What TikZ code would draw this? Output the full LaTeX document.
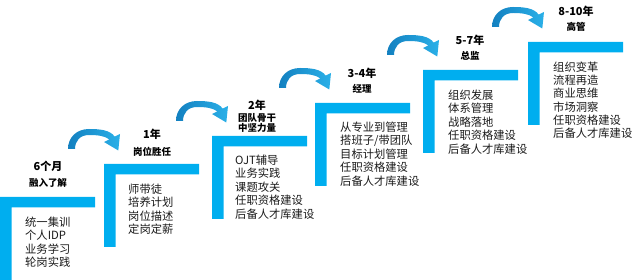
\documentclass[tikz,border=0pt]{standalone}
\usepackage{fontspec}
\setmainfont{Noto Sans CJK SC}
\definecolor{stepblue}{HTML}{00AEEF}
\definecolor{arrowdark}{HTML}{1380C0}
\definecolor{arrowlight}{HTML}{2AB0E8}
\definecolor{txt}{HTML}{1A1A1A}
\tikzset{
  stepbar/.style={fill=stepblue, draw=none},
  bodytxt/.style={font=\fontsize{11.3}{13.5}\selectfont, text=txt, anchor=base west, inner sep=0pt},
  titletxt/.style={font=\bfseries\fontsize{11}{13}\selectfont, text=black, anchor=base, inner sep=0pt},
  subtxt/.style={font=\bfseries\fontsize{9.5}{11}\selectfont, text=black, anchor=base, inner sep=0pt},
  curvearrow/.style={left color=arrowdark, right color=arrowlight, draw=none}
}
\begin{document}
\begin{tikzpicture}[x=1pt,y=-1pt]
\useasboundingbox (0,0) rectangle (638,280);
% steps
\foreach \L/\T/\n in {0/197/1, 104/164/2, 212/136/3, 315/103/4, 423/70/5, 528/42/6}{
  \fill[stepbar] (\L,\T) -- ({\L+95},\T) -- ({\L+95},{\T+10.5}) -- ({\L+11.5},{\T+10.5})
     -- ({\L+11.5},{\T+83}) -- (\L,{\T+83}) -- cycle;
}
% curved arrows
\foreach \L/\T in {104/164, 212/136, 315/103, 423/70, 528/42}{
  \begin{scope}[shift={({\L-104},{\T-164})}]
  \shade[curvearrow] (68,149) .. controls (68,137) and (77,129) .. (89,129)
     .. controls (100,129) and (110,130) .. (114.7,136.6)
     -- (120,134) -- (118.3,150.5) -- (104,142) -- (109.3,139.4)
     .. controls (105,136) and (98,135) .. (89,135)
     .. controls (80,135) and (75,141) .. (75,149) -- cycle;
  \end{scope}
}
% titles
\node[titletxt] (t1) at (48,170.2) {6个月};
\node[subtxt] (s1) at (48,186.6) {融入了解};
\node[titletxt] (t2) at (152,138.2) {1年};
\node[subtxt] (s2) at (152,155.6) {岗位胜任};
\node[titletxt] (t3) at (257,109.2) {2年};
\node[subtxt] (s3a) at (257,121.6) {团队骨干};
\node[subtxt] (s3b) at (257,131.8) {中坚力量};
\node[titletxt] (t4) at (362,77.2) {3-4年};
\node[subtxt] (s4) at (362,92.6) {经理};
\node[titletxt] (t5) at (470,44.2) {5-7年};
\node[subtxt] (s5) at (470,59.6) {总监};
\node[titletxt] (t6) at (576,15.2) {8-10年};
\node[subtxt] (s6) at (576,30.6) {高管};
% bodies
\foreach \line [count=\i from 0] in {统一集训, 个人IDP, 业务学习, 轮岗实践}
  \node[bodytxt] (b1-\i) at (25,{197+29.4+13.5*\i}) {\line};
\foreach \line [count=\i from 0] in {师带徒, 培养计划, 岗位描述, 定岗定薪}
  \node[bodytxt] (b2-\i) at (128,{164+29.4+13.5*\i}) {\line};
\foreach \line [count=\i from 0] in {OJT辅导, 业务实践, 课题攻关, 任职资格建设, 后备人才库建设}
  \node[bodytxt] (b3-\i) at (235,{136+28.4+13.5*\i}) {\line};
\foreach \line [count=\i from 0] in {从专业到管理, 搭班子/带团队, 目标计划管理, 任职资格建设, 后备人才库建设}
  \node[bodytxt] (b4-\i) at (340,{103+28.4+13.5*\i}) {\line};
\foreach \line [count=\i from 0] in {组织发展, 体系管理, 战略落地, 任职资格建设, 后备人才库建设}
  \node[bodytxt] (b5-\i) at (448,{70+29.4+13.5*\i}) {\line};
\foreach \line [count=\i from 0] in {组织变革, 流程再造, 商业思维, 市场洞察, 任职资格建设, 后备人才库建设}
  \node[bodytxt] (b6-\i) at (553,{42+29.4+13.3*\i}) {\line};
\end{tikzpicture}
\end{document}
